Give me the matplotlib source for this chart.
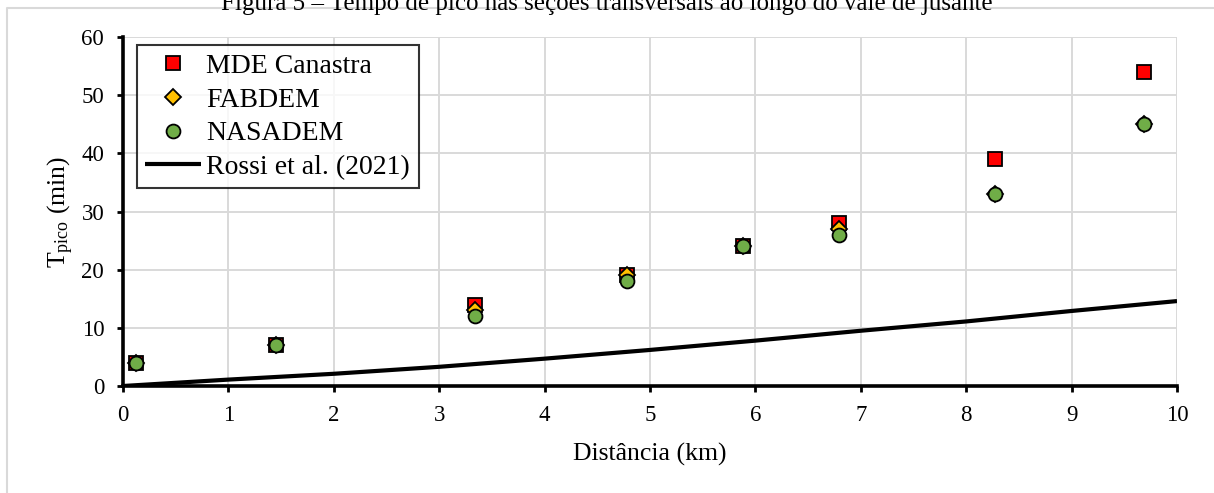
import matplotlib
matplotlib.use("Agg")
import matplotlib.pyplot as plt
from matplotlib.lines import Line2D

plt.rcParams['font.family'] = ['Liberation Serif', 'DejaVu Serif']
plt.rcParams['mathtext.fontset'] = 'custom'
plt.rcParams['mathtext.rm'] = 'Liberation Serif'
plt.rcParams['mathtext.it'] = 'Liberation Serif:italic'

# Data
distancia = [0.12, 1.45, 3.34, 4.78, 5.88, 6.79, 8.27, 9.69]
mde_canastra = [4, 7, 14, 19, 24, 28, 39, 54]
fabdem = [4, 7, 13, 19, 24, 27, 33, 45]
nasadem = [4, 7, 12, 18, 24, 26, 33, 45]
rossi_x = [0, 1, 2, 3, 4, 5, 6, 7, 8, 9, 10]
rossi_y = [0, 1.1, 2.1, 3.3, 4.7, 6.2, 7.8, 9.5, 11.1, 12.9, 14.6]
xticks = list(range(0, 11))
yticks = [0, 10, 20, 30, 40, 50, 60]

W, H = 1214, 493
fig = plt.figure(figsize=(W / 100, H / 100), dpi=100)
ax = fig.add_axes([123 / W, 1 - 386 / H, (1177 - 123) / W, (386 - 37) / H])

grid_c = '#D9D9D9'
ax.grid(True, color=grid_c, linewidth=1.4, zorder=0)
ax.set_axisbelow(True)

ax.plot(rossi_x, rossi_y, color='black', linewidth=3, label='Rossi et al. (2021)', zorder=2,
        solid_capstyle='butt')
ax.plot(distancia, mde_canastra, linestyle='none', marker='s', markersize=9.5,
        markerfacecolor='#FF0000', markeredgecolor='black', markeredgewidth=1.3,
        label='MDE Canastra', zorder=3)
ax.plot(distancia, fabdem, linestyle='none', marker='D', markersize=8,
        markerfacecolor='#FFC000', markeredgecolor='black', markeredgewidth=1.3,
        label='FABDEM', zorder=4)
ax.plot(distancia, nasadem, linestyle='none', marker='o', markersize=10,
        markerfacecolor='#70AD47', markeredgecolor='black', markeredgewidth=1.3,
        label='NASADEM', zorder=5)

ax.set_xlim(0, 10)
ax.set_ylim(0, 60)
ax.set_xticks(xticks)
ax.set_yticks(yticks)
ax.tick_params(axis='both', direction='out', length=4.5, width=2, labelsize=16.5, pad=9,
               color='black')

for s in ['top', 'right']:
    ax.spines[s].set_visible(False)
for s in ['left', 'bottom']:
    ax.spines[s].set_linewidth(2.6)
    ax.spines[s].set_color('black')
    ax.spines[s].set_zorder(6)

ax.set_xlabel('Distância (km)', fontsize=18.5, labelpad=12)
ax.set_ylabel(r'T$_{\mathrm{pico}}$ (min)', fontsize=18.5, labelpad=4)

handles, labels = ax.get_legend_handles_labels()
order = [1, 2, 3, 0]
leg = ax.legend([handles[i] for i in order], [labels[i] for i in order],
                loc='upper left', bbox_to_anchor=(137 / W, 1 - 45 / H),
                bbox_transform=fig.transFigure, borderaxespad=0,
                fontsize=20, frameon=True, fancybox=False, numpoints=1,
                handlelength=2.0, handletextpad=0.2, labelspacing=0.3,
                borderpad=0.3)
leg.get_frame().set_edgecolor('black')
leg.get_frame().set_linewidth(1.5)

# outer chart-area frame
fig.add_artist(Line2D([7 / W, 7 / W, 1.0], [0.0, 1 - 8 / H, 1 - 8 / H],
                      transform=fig.transFigure, color=grid_c, linewidth=1.5))

fig.text(607 / W, 1 - 10 / H,
         'Figura 5 – Tempo de pico nas seções transversais ao longo do vale de jusante',
         ha='center', va='baseline', fontsize=18)

fig.savefig('out.png', dpi=100)
